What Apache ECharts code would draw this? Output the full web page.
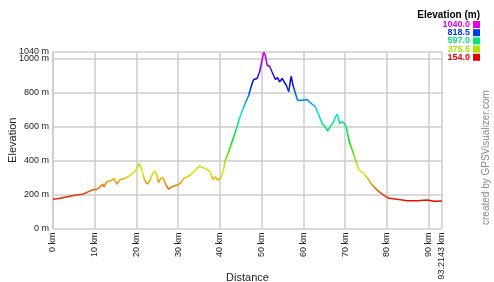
<!DOCTYPE html>
<html><head><meta charset="utf-8">
<script src="https://cdn.jsdelivr.net/npm/echarts@6/dist/echarts.min.js"></script>
<style>html,body{margin:0;padding:0;background:#fff}#c{width:494px;height:282px}</style>
</head><body><div id="c"></div>
<script>
var distanceKm = [0,1.7,4.9,7.3,8.9,9.7,10.5,11.3,11.9,12.2,12.9,14.1,14.6,15.3,16.1,17.3,18.5,19.7,20.1,20.7,21.3,21.8,22.5,23.1,23.9,24.5,24.9,25.3,25.8,26.3,26.9,27.7,28.5,29.7,30.5,31.3,32.5,33.7,34.5,35.1,35.7,36.5,37.7,38.3,38.9,39.4,40.1,40.7,41.3,42.1,43.3,44.1,44.6,45.7,46.9,47.7,48.1,48.9,49.5,50.1,50.5,50.9,51.3,51.9,52.5,52.9,53.3,53.8,54.3,54.9,55.4,55.9,56.5,56.9,57.1,57.5,58.1,58.6,59.7,60.9,61.7,62.9,63.7,64.5,65.3,65.8,66.5,67.1,67.7,68.1,68.7,69.3,69.8,70.3,70.9,71.7,72.5,73.3,74.5,75.7,76.5,77.7,78.9,80.5,82.5,84.9,87.3,89.7,91.3,93.2143];
var elevationM = [172,178,195,203,222,230,230,246,262,246,275,285,295,262,289,295,315,338,354,383,344,295,262,275,325,338,315,270,295,301,266,232,246,256,266,295,309,334,354,368,360,354,334,289,305,285,295,328,403,452,540,599,644,716,785,854,878,884,922,991,1040,1020,962,956,922,932,878,889,864,884,864,844,805,874,897,844,795,756,756,760,740,716,668,619,595,575,603,622,658,674,619,628,619,595,521,462,403,344,325,285,256,226,203,178,172,164,164,168,160,162];
var xTicksKm = [0,10,20,30,40,50,60,70,80,90,93.2143];
var yTicksM = [0,200,400,600,800,1000];
var yTopTickM = [1040];
var legendValues = ['1040.0','818.5','597.0','375.5','154.0'];
var legendHues = [300,225,150,75,0];
var rampHues = [0,30,60,90,120,150,180,210,240,270,300];

function hsv(h){var s=1,v=0.9;var c=v*s,x=c*(1-Math.abs((h/60)%2-1)),m=v-c;var r,g,b;
 if(h<60){r=c;g=x;b=0}else if(h<120){r=x;g=c;b=0}else if(h<180){r=0;g=c;b=x}else if(h<240){r=0;g=x;b=c}else if(h<300){r=x;g=0;b=c}else{r=c;g=0;b=x}
 function hx(n){var s=Math.round((n+m)*255).toString(16);return s.length<2?'0'+s:s}
 return '#'+hx(r)+hx(g)+hx(b);}

var pts = distanceKm.map(function(d,i){return [d,elevationM[i]];});
var graphics = [{type:'text',right:14,top:10,style:{text:'Elevation (m)',font:'bold 10px "Liberation Sans", Arial',fill:'#000'}}];
legendValues.forEach(function(v,i){
  graphics.push({type:'text',right:24,top:20+i*8.2,style:{text:v,font:'bold 9px "Liberation Sans", Arial',fill:hsv(legendHues[i]),align:'right'}});
  graphics.push({type:'rect',shape:{x:473,y:21+i*8.2,width:7,height:7},style:{fill:hsv(legendHues[i])}});
});
graphics.push({type:'text',x:481,y:225,rotation:Math.PI/2,style:{text:'created by GPSVisualizer.com',font:'10px "Liberation Sans", Arial',fill:'#8a8a8a'}});

var labelFont = {fontSize:9,color:'#222',fontFamily:'Liberation Sans',margin:4,hideOverlap:false};
var gridLine = {color:'#cccccc',width:1.5};
var chart = echarts.init(document.getElementById('c'),null,{renderer:'canvas'});
chart.setOption({
  animation:false,
  grid:{left:53,right:52,top:52,bottom:53.5,containLabel:false,outerBoundsMode:'none'},
  xAxis:{type:'value',min:0,max:93.2143,interval:10,
    name:'Distance',nameLocation:'middle',nameGap:44,nameMoveOverlap:false,nameTextStyle:{fontSize:11,color:'#222',fontFamily:'Liberation Sans'},
    axisLine:{show:false},axisTick:{show:false},
    axisLabel:Object.assign({rotate:90,customValues:xTicksKm,formatter:function(v){return v+' km';}},labelFont),
    splitLine:{show:true,lineStyle:gridLine}},
  yAxis:[{type:'value',min:0,max:1040,interval:200,
    name:'Elevation',nameLocation:'middle',nameGap:35,nameMoveOverlap:false,nameRotate:90,nameTextStyle:{fontSize:11,color:'#222',fontFamily:'Liberation Sans'},
    axisLine:{show:true,lineStyle:gridLine},axisTick:{show:false},
    axisLabel:Object.assign({customValues:yTicksM,formatter:function(v){return v+' m';}},labelFont),
    splitLine:{show:true,lineStyle:gridLine}},
   {type:'value',min:0,max:1040,position:'left',
    axisLine:{show:false},axisTick:{show:false},splitLine:{show:false},
    axisLabel:Object.assign({customValues:yTopTickM,formatter:function(v){return v+' m';}},labelFont)}],
  visualMap:{show:false,type:'continuous',dimension:1,min:154,max:1040,
    inRange:{color:rampHues.map(hsv)}},
  series:[{type:'line',data:pts,showSymbol:false,lineStyle:{width:1.5},silent:true}],
  graphic:graphics
});
</script></body></html>
